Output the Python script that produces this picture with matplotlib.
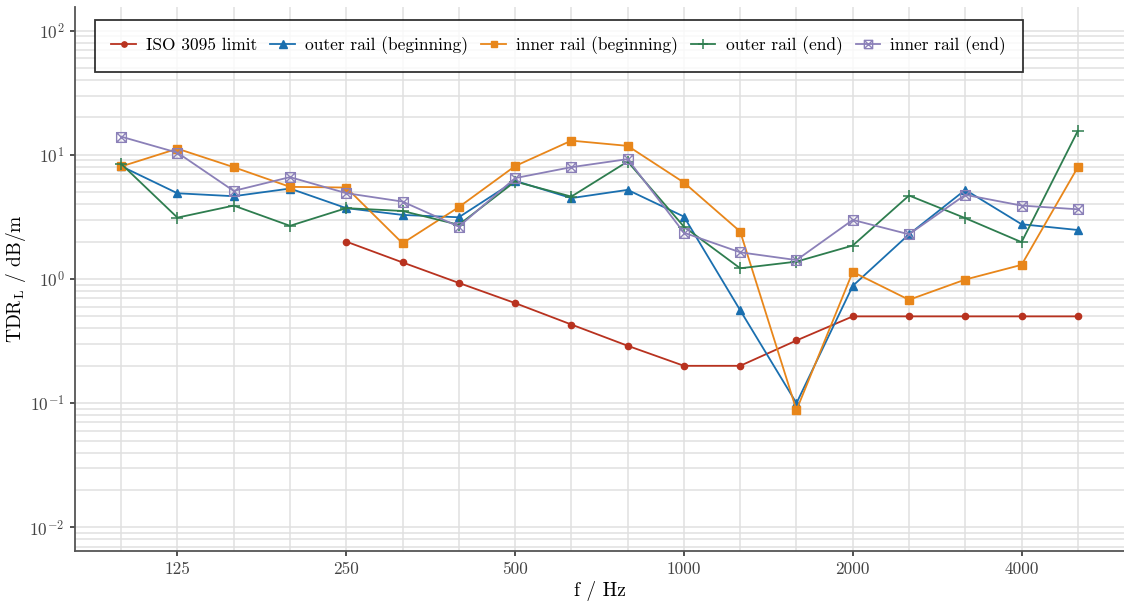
import numpy as np
import matplotlib
matplotlib.use('Agg')
import matplotlib.pyplot as plt
from matplotlib.path import Path
from matplotlib.ticker import LogLocator, NullFormatter, FixedLocator

plt.rcParams['font.family'] = 'serif'
plt.rcParams['font.serif'] = ['cmr10']
plt.rcParams['mathtext.fontset'] = 'cm'
plt.rcParams['axes.formatter.use_mathtext'] = True

bands = [100, 125, 160, 200, 250, 315, 400, 500, 630, 800, 1000,
         1250, 1600, 2000, 2500, 3150, 4000, 5000]
tick_bands = [125, 250, 500, 1000, 2000, 4000]

iso_limit = [2.0, 1.36, 0.93, 0.64, 0.43, 0.29, 0.2, 0.2, 0.32, 0.5, 0.5, 0.5, 0.5, 0.5]
outer_begin = [8.1, 4.9, 4.64, 5.35, 3.72, 3.28, 3.14, 6.17, 4.48, 5.22, 3.18,
               0.56, 0.1, 0.88, 2.29, 5.22, 2.76, 2.48]
inner_begin = [8.05, 11.2, 7.95, 5.52, 5.45, 1.94, 3.79, 8.11, 13.0, 11.8, 5.98,
               2.41, 0.088, 1.14, 0.68, 0.99, 1.30, 7.95]
outer_end = [8.46, 3.12, 3.90, 2.68, 3.72, 3.53, 2.73, 6.09, 4.61, 8.83, 2.64,
             1.22, 1.38, 1.86, 4.70, 3.09, 1.98, 15.6]
inner_end = [14.0, 10.4, 5.12, 6.61, 4.91, 4.2, 2.64, 6.49, 7.95, 9.23, 2.36,
             1.64, 1.42, 2.99, 2.29, 4.76, 3.90, 3.64]

x = np.arange(len(bands))
x_iso = x[4:]

# square with a cross inside (like ggplot shape 7)
sq_cross = Path([(-1, -1), (1, -1), (1, 1), (-1, 1), (-1, -1), (-1, -1), (1, 1), (-1, 1), (1, -1)],
                [Path.MOVETO, Path.LINETO, Path.LINETO, Path.LINETO, Path.LINETO,
                 Path.MOVETO, Path.LINETO, Path.MOVETO, Path.LINETO])

fig = plt.figure(figsize=(11.24, 6.06), dpi=100)
ax = fig.add_axes([75 / 1124, 1 - 551 / 606, 1 - 75 / 1124, (551 - 7) / 606])

lw = 1.3
ax.plot(x_iso, iso_limit, color='#b8321f', marker='o', ms=4.5, lw=lw, label='ISO 3095 limit')
ax.plot(x, outer_begin, color='#1a6faf', marker='^', ms=6, lw=lw, label='outer rail (beginning)')
ax.plot(x, inner_begin, color='#e8861a', marker='s', ms=5.5, lw=lw, label='inner rail (beginning)')
ax.plot(x, outer_end, color='#2e7d4f', marker='+', ms=9, mew=1.1, lw=lw, label='outer rail (end)')
ax.plot(x, inner_end, color='#8b80b8', marker=sq_cross, ms=7, mfc='none', mew=1.0, lw=lw,
        label='inner rail (end)')

ax.set_yscale('log')
ax.set_ylim(10 ** -2.19, 10 ** 2.19)
ax.set_xlim(-0.82, 17.82)

ax.yaxis.set_major_locator(LogLocator(base=10, numticks=10))
ax.yaxis.set_minor_locator(LogLocator(base=10, subs=np.arange(2, 10), numticks=20))
ax.yaxis.set_minor_formatter(NullFormatter())

ax.set_xticks([bands.index(b) for b in tick_bands])
ax.set_xticklabels([str(b) for b in tick_bands])
ax.xaxis.set_minor_locator(FixedLocator(x))

ax.grid(True, which='both', axis='both', color='#e0e0e0', lw=1.1, zorder=0)
ax.set_axisbelow(True)
ax.tick_params(which='minor', length=0)
ax.tick_params(which='major', length=3.5, width=1.2, color='#333333', labelsize=12.5,
               labelcolor='#444444', pad=4)

for s in ['top', 'right']:
    ax.spines[s].set_visible(False)
for s in ['left', 'bottom']:
    ax.spines[s].set_color('#555555')
    ax.spines[s].set_linewidth(1.3)

ax.set_xlabel('f / Hz', fontsize=14, labelpad=3)
ax.set_ylabel(r'TDR$_\mathrm{L}$ / dB/m', fontsize=14)
ax.yaxis.set_label_coords(-0.045, 0.5)

leg = ax.legend(loc='upper left', bbox_to_anchor=(20 / 1049, 1 - 13 / 544), ncol=5,
                fontsize=12.5, frameon=True, fancybox=False, edgecolor='black',
                handlelength=1.4, columnspacing=0.75, handletextpad=0.6,
                borderpad=0.95, borderaxespad=0, markerscale=0.85)
leg.get_frame().set_linewidth(1.3)

plt.savefig('out.png', dpi=100)
